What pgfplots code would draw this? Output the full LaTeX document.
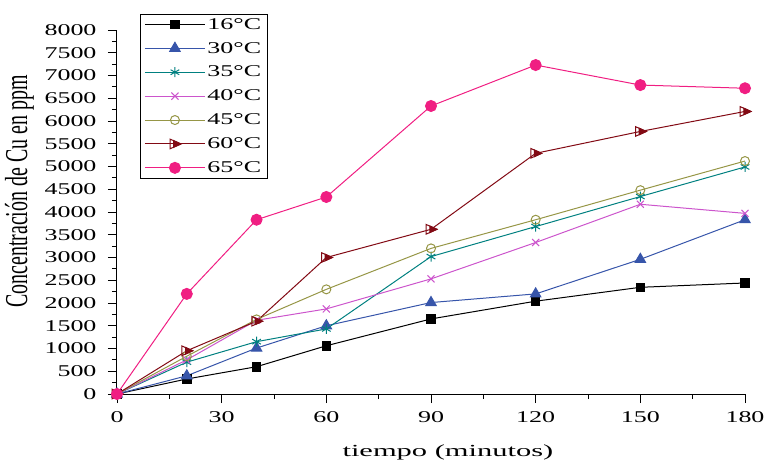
\documentclass[border=0pt]{standalone}
\usepackage{pgfplots}
\pgfplotsset{compat=1.18}
\usepackage{fontspec}
\usepackage{graphicx}
\setmainfont{Liberation Serif}
\newfontfamily\widefont{Liberation Serif}[FakeStretch=1.58]
\newfontfamily\xlabfont{Liberation Serif}[FakeStretch=1.8]

\definecolor{cA}{RGB}{0,0,0}
\definecolor{cB}{RGB}{55,85,170}
\definecolor{cC}{RGB}{0,128,128}
\definecolor{cD}{RGB}{204,85,204}
\definecolor{cE}{RGB}{150,150,70}
\definecolor{cF}{RGB}{130,10,20}
\definecolor{cG}{RGB}{240,30,130}

% right-pointing triangle, left part open, tip filled
\pgfdeclareplotmark{halftri}{%
  \pgfpathmoveto{\pgfqpoint{-0.8\pgfplotmarksize}{0.8\pgfplotmarksize}}%
  \pgfpathlineto{\pgfqpoint{\pgfplotmarksize}{0pt}}%
  \pgfpathlineto{\pgfqpoint{-0.8\pgfplotmarksize}{-0.8\pgfplotmarksize}}%
  \pgfpathclose\pgfusepathqstroke
  \pgfpathmoveto{\pgfqpoint{-0.2\pgfplotmarksize}{0.55\pgfplotmarksize}}%
  \pgfpathlineto{\pgfqpoint{\pgfplotmarksize}{0pt}}%
  \pgfpathlineto{\pgfqpoint{-0.2\pgfplotmarksize}{-0.55\pgfplotmarksize}}%
  \pgfpathclose\pgfusepathqfillstroke
}

\begin{document}
\begin{tikzpicture}
\useasboundingbox (-117bp,-66bp) rectangle (647bp,394bp);
\begin{axis}[
    at={(0,0)}, anchor=south west,
    scale only axis, width=628bp, height=364bp,
    xmin=0, xmax=180, ymin=0, ymax=8000,
    axis x line*=bottom, axis y line*=left,
    axis line style={line width=1bp},
    xtick={0,30,...,180}, ytick={0,500,...,8000},
    minor x tick num=1, minor y tick num=1,
    tick align=outside,
    major tick length=9bp, minor tick length=5bp,
    every tick/.style={black, line width=0.8bp},
    /pgf/number format/assume math mode=true,
    /pgf/number format/1000 sep={},
    ticklabel style={font=\widefont\fontsize{16.5}{18}\selectfont},
    yticklabel style={xshift=-8bp},
    xticklabel style={yshift=-5bp},
    xlabel={tiempo (minutos)},
    xlabel style={font=\xlabfont\fontsize{17}{19}\selectfont, at={(rel axis cs:0.527,0)}, anchor=base, yshift=-62bp},
    ylabel={\scalebox{1}[1.6]{Concentración de Cu en ppm}},
    ylabel style={font=\fontsize{20}{22}\selectfont, at={([xshift=-83bp]rel axis cs:0,0.556)}, anchor=south, inner sep=0pt},
    legend style={at={(0.037,1.044)}, anchor=north west, draw=black,
      font=\widefont\fontsize{16.5}{19}\selectfont, row sep=7.5bp,
      inner xsep=4bp},
    legend cell align=left,
    legend image code/.code={\draw[mark repeat=2,mark phase=2] plot coordinates {(0bp,0bp)(30bp,0bp)(60bp,0bp)};},
    every axis plot/.append style={line width=1bp},
]
\addplot[cA, mark=square*, mark size=4.3bp] coordinates {(0,0)(20,330)(40,600)(60,1060)(90,1650)(120,2040)(150,2345)(180,2440)};
\addplot[cB, mark=triangle*, mark size=6bp] coordinates {(0,0)(20,400)(40,1010)(60,1500)(90,2010)(120,2200)(150,2960)(180,3830)};
\addplot[cC, mark=asterisk, mark size=5bp] coordinates {(0,0)(20,700)(40,1150)(60,1430)(90,3020)(120,3680)(150,4340)(180,4990)};
\addplot[cD, mark=x, mark size=5bp] coordinates {(0,0)(20,750)(40,1620)(60,1870)(90,2530)(120,3330)(150,4170)(180,3970)};
\addplot[cE, mark=o, mark size=4.5bp, mark options={fill=white}] coordinates {(0,0)(20,830)(40,1640)(60,2300)(90,3200)(120,3830)(150,4480)(180,5120)};
\addplot[cF, mark=halftri, mark size=6bp, mark options={fill=cF}] coordinates {(0,0)(20,950)(40,1600)(60,3000)(90,3620)(120,5290)(150,5770)(180,6210)};
\addplot[cG, mark=*, mark size=5.5bp] coordinates {(0,0)(20,2200)(40,3830)(60,4330)(90,6330)(120,7230)(150,6790)(180,6720)};
\legend{16°C,30°C,35°C,40°C,45°C,60°C,65°C}
\end{axis}
\end{tikzpicture}
\end{document}
